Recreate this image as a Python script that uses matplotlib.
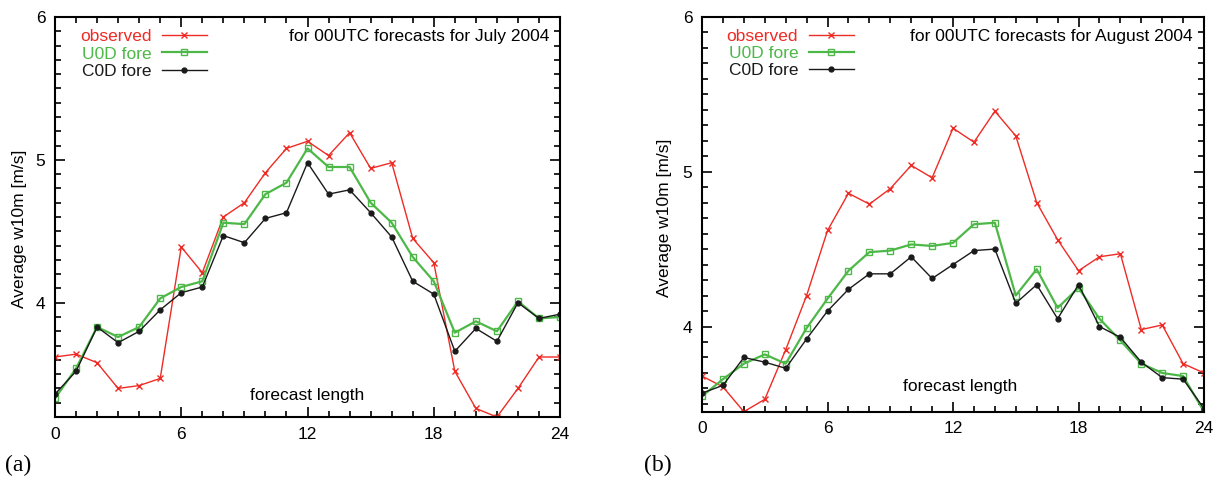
import numpy as np
import matplotlib
matplotlib.use("Agg")
import matplotlib.pyplot as plt
from matplotlib.ticker import MultipleLocator

plt.rcParams['font.family'] = ['Liberation Sans', 'DejaVu Sans']

hours = list(range(25))

# July 2004 (panel a)
jul_observed = [3.62, 3.64, 3.58, 3.40, 3.42, 3.47, 4.39, 4.21, 4.60, 4.70, 4.91, 5.08, 5.13,
                5.03, 5.19, 4.94, 4.98, 4.45, 4.28, 3.52, 3.26, 3.20, 3.40, 3.62, 3.62]
jul_u0d = [3.33, 3.54, 3.83, 3.76, 3.83, 4.03, 4.11, 4.15, 4.56, 4.55, 4.76, 4.84, 5.08,
           4.95, 4.95, 4.70, 4.56, 4.32, 4.15, 3.79, 3.87, 3.80, 4.01, 3.89, 3.90]
jul_c0d = [3.36, 3.52, 3.83, 3.72, 3.80, 3.95, 4.07, 4.11, 4.47, 4.42, 4.59, 4.63, 4.98,
           4.76, 4.79, 4.63, 4.46, 4.15, 4.06, 3.66, 3.82, 3.73, 4.00, 3.89, 3.92]

# August 2004 (panel b)
aug_observed = [3.68, 3.61, 3.45, 3.53, 3.85, 4.20, 4.62, 4.86, 4.79, 4.89, 5.04, 4.96, 5.28,
                5.19, 5.39, 5.23, 4.80, 4.56, 4.36, 4.45, 4.47, 3.98, 4.01, 3.76, 3.70]
aug_u0d = [3.55, 3.66, 3.76, 3.82, 3.76, 3.99, 4.18, 4.36, 4.48, 4.49, 4.53, 4.52, 4.54,
           4.66, 4.67, 4.20, 4.37, 4.12, 4.25, 4.05, 3.91, 3.76, 3.70, 3.68, 3.45]
aug_c0d = [3.57, 3.62, 3.80, 3.77, 3.73, 3.92, 4.10, 4.24, 4.34, 4.34, 4.45, 4.31, 4.40,
           4.49, 4.50, 4.15, 4.27, 4.05, 4.27, 4.00, 3.93, 3.77, 3.67, 3.66, 3.47]

series_labels = ["observed", "U0D fore", "C0D fore"]
panel_titles = ["for 00UTC forecasts for July 2004", "for 00UTC forecasts for August 2004"]
panel_tags = ["(a)", "(b)"]
x_ticks = [0, 6, 12, 18, 24]
y_ticks = [4, 5, 6]

RED = '#ee2b25'
GREEN = '#4db848'
BLACK = '#1a1a1a'

fig = plt.figure(figsize=(12.22, 4.91), dpi=100)
ax1 = fig.add_axes([0.045, 0.1507, 0.4133, 0.8147])
ax2 = fig.add_axes([0.5745, 0.1615, 0.4108, 0.8045])

panels = [
    (ax1, jul_observed, jul_u0d, jul_c0d, 3.2, (0.5, 0.053), (-0.056, 0.47)),
    (ax2, aug_observed, aug_u0d, aug_c0d, 3.45, (0.514, 0.065), (-0.06, 0.49)),
]

FS = 12.5
for i, (ax, obs, u0d, c0d, ymin, fl_pos, yl_pos) in enumerate(panels):
    ax.plot(hours, obs, color=RED, lw=1.0, marker='x', ms=5, mew=1.0, label=series_labels[0])
    ax.plot(hours, u0d, color=GREEN, lw=1.6, marker='s', ms=5, mfc='none', mew=1.0,
            label=series_labels[1])
    ax.plot(hours, c0d, color=BLACK, lw=1.0, marker='o', ms=3.5, label=series_labels[2])
    ax.set_xlim(0, 24)
    ax.set_ylim(ymin, 6)
    ax.set_xticks(x_ticks)
    ax.set_yticks(y_ticks)
    ax.xaxis.set_minor_locator(MultipleLocator(1))
    ax.yaxis.set_minor_locator(MultipleLocator(0.1))
    ax.tick_params(which='both', direction='in', top=True, right=True, width=1.2)
    ax.tick_params(which='major', length=7, labelsize=FS, pad=7)
    ax.tick_params(which='minor', length=4)
    for sp in ax.spines.values():
        sp.set_linewidth(1.5)
    ax.set_ylabel("Average w10m [m/s]", fontsize=FS)
    ax.yaxis.set_label_coords(*yl_pos)
    ax.text(fl_pos[0], fl_pos[1], "forecast length", transform=ax.transAxes,
            ha='center', va='center', fontsize=FS)
    ax.text(0.978, 0.95, panel_titles[i], transform=ax.transAxes,
            ha='right', va='center', fontsize=FS)
    ax.legend(loc='upper left', bbox_to_anchor=(0.025, 1.0), frameon=False, markerfirst=False,
              fontsize=FS, handlelength=2.6, handletextpad=0.6, labelspacing=0.12,
              labelcolor='linecolor', numpoints=1, borderaxespad=0.3)

fig.text(0.004, 0.053, panel_tags[0], fontsize=17, family=['Liberation Serif', 'DejaVu Serif'],
         va='center', ha='left')
fig.text(0.527, 0.053, panel_tags[1], fontsize=17, family=['Liberation Serif', 'DejaVu Serif'],
         va='center', ha='left')

fig.savefig("out.png", dpi=100)
